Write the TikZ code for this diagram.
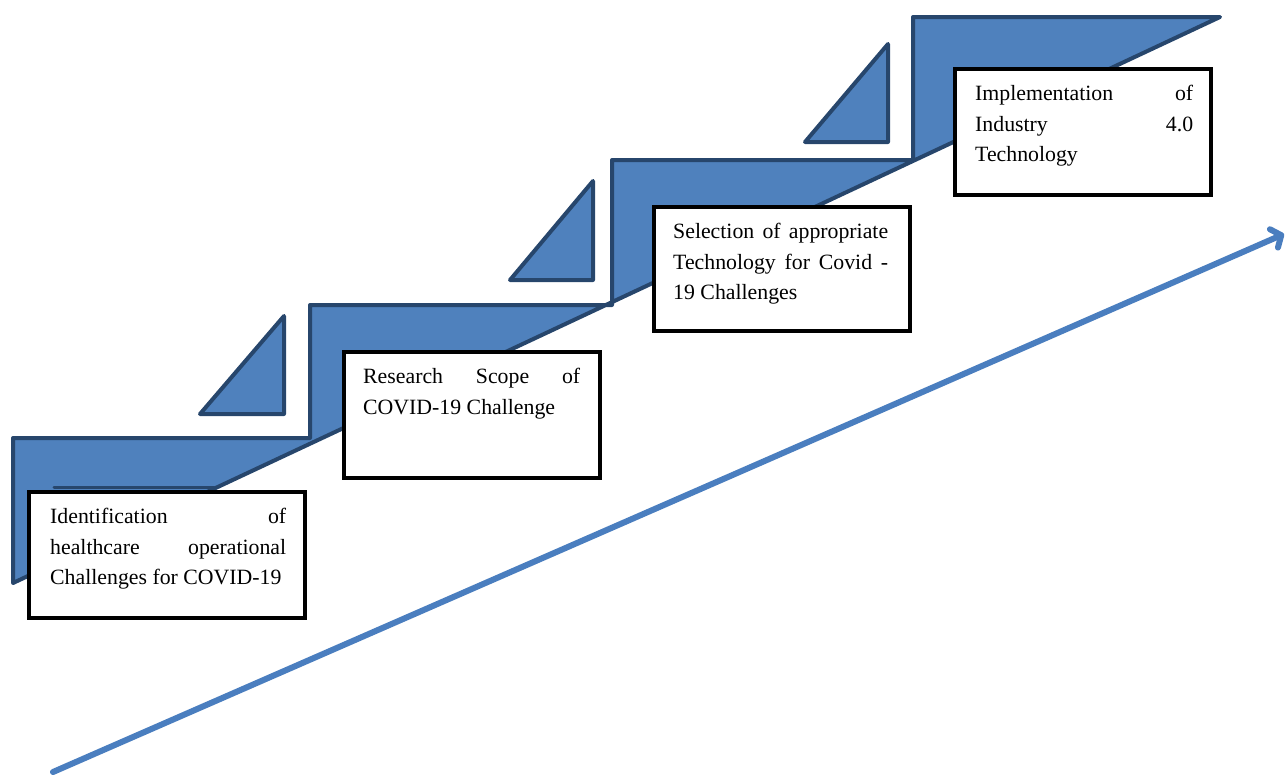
\documentclass[tikz,border=0pt]{standalone}
\usepackage{fontspec}
\setmainfont{Liberation Serif}
\usetikzlibrary{arrows.meta}
\definecolor{stepfill}{HTML}{4F81BD}
\definecolor{stepline}{HTML}{27466C}
\definecolor{arrowblue}{HTML}{4A7EBF}
\tikzset{
  stair/.style={fill=stepfill, draw=stepline, line width=4pt, line join=round},
  wbox/.style={draw=black, fill=white, line width=4pt, line join=miter, anchor=north west, inner sep=0pt, outer sep=0pt},
  btext/.style={anchor=north west, inner sep=0pt, align=justify,
    font=\fontsize{21.8}{30.5}\selectfont},
}
\newcommand{\jline}[1]{\makebox[\linewidth][s]{#1}}
\begin{document}
\begin{tikzpicture}[x=1pt,y=-1pt]
\useasboundingbox (0,0) rectangle (1287,774);
% staircase
\draw[stair] (13,583) -- (13,438) -- (310,438) -- (310,305) -- (612,305) -- (612,160)
  -- (913,160) -- (913,17) -- (1220,17) -- cycle;
% triangles
\draw[stair] (200,414) -- (284,414) -- (284,316) -- cycle;
\draw[stair] (510,280) -- (593,280) -- (593,181) -- cycle;
\draw[stair] (805,142) -- (888,142) -- (888,44) -- cycle;
% boxes
\draw[stepline, line width=3pt, line cap=round] (54,487) -- (214,487);
\node[wbox, minimum width=276pt, minimum height=126pt] (b1) at (29,492) {};
\node[wbox, minimum width=256pt, minimum height=126pt] (b2) at (344,352) {};
\node[wbox, minimum width=256pt, minimum height=124pt] (b3) at (654,207) {};
\node[wbox, minimum width=256pt, minimum height=126pt] (b4) at (955,69) {};
% texts
\node[btext, text width=236pt] (t1) at (50,508) {\jline{Identification of}\\\jline{healthcare operational}\\Challenges for COVID-19};
\node[btext, text width=217pt] (t2) at (363,368) {\jline{Research Scope of}\\COVID-19 Challenge};
\node[btext, text width=215pt] (t3) at (673,223) {\jline{Selection of appropriate}\\\jline{Technology for Covid -}\\19 Challenges};
\node[btext, text width=218pt] (t4) at (975,85) {\jline{Implementation of}\\\jline{Industry 4.0}\\Technology};
% arrow
\coordinate (as) at (53,772);
\coordinate (ae) at (1284,234);
\draw[arrowblue, line width=6pt, line cap=round, -{Straight Barb[length=8pt,width=20pt,line cap=round,line join=round]}] (as) -- (ae);
\end{tikzpicture}
\end{document}
